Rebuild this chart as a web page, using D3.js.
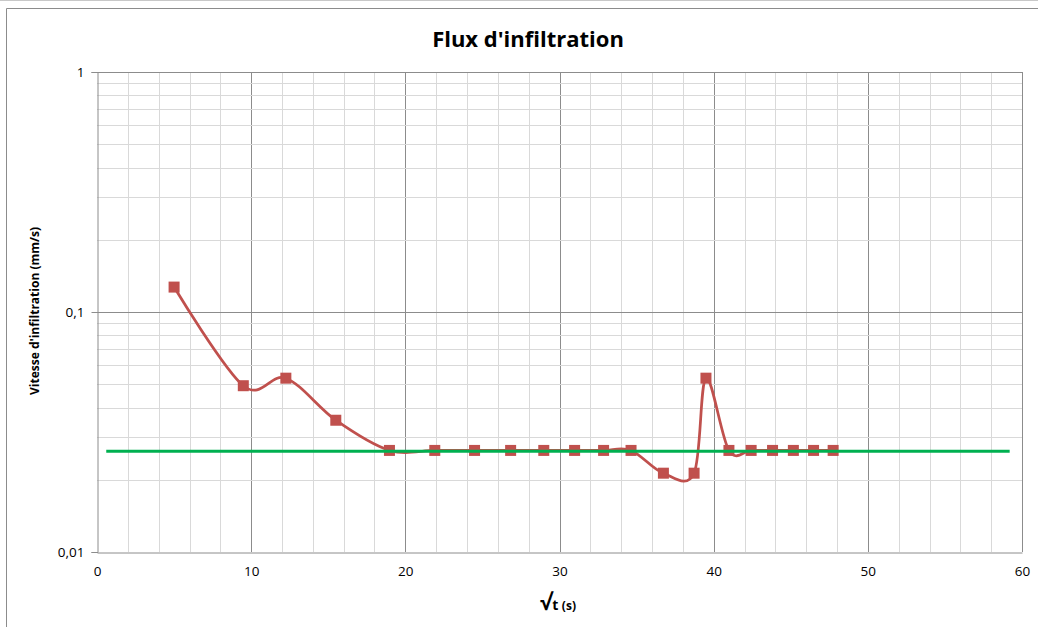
<!DOCTYPE html>
<html>
<head>
<meta charset="utf-8">
<script src="https://cdn.jsdelivr.net/npm/d3@7"></script>
<style>
  html, body { margin: 0; padding: 0; background: #fff; }
  svg { display: block; }
  text { font-family: "Open Sans", "Noto Sans", sans-serif; }
</style>
</head>
<body>
<div id="chart"></div>
<script>
// ---- data ----
const sqrtT = [5.0, 9.49, 12.25, 15.49, 18.97, 21.91, 24.49, 26.83, 28.98, 30.98, 32.86,
               34.64, 36.74, 38.73, 39.50, 40.99, 42.43, 43.82, 45.17, 46.48, 47.75];
const velocity = [0.127, 0.0493, 0.053, 0.0354, 0.0265, 0.0265, 0.0265, 0.0265, 0.0265, 0.0265, 0.0265,
                  0.0265, 0.0213, 0.0213, 0.053, 0.0265, 0.0265, 0.0265, 0.0265, 0.0265, 0.0265];
const refX = [0.6, 59.2];
const refY = [0.0263, 0.0263];
const xTicks = [0, 10, 20, 30, 40, 50, 60];
const yTicks = [0.01, 0.1, 1];
const yTickLabels = ["0,01", "0,1", "1"];
const titleText = "Flux d'infiltration";
const yLabel = "Vitesse d'infiltration (mm/s)";

// ---- layout ----
const W = 1038, H = 627;
const plot = { left: 97, right: 1022, top: 72, bottom: 552 };

const svg = d3.select("#chart").append("svg").attr("width", W).attr("height", H);

// frame
svg.append("line").attr("x1", 0).attr("x2", W).attr("y1", 0.5).attr("y2", 0.5)
  .attr("stroke", "#c8c8c8").attr("stroke-width", 1);
svg.append("path").attr("d", `M6.5,${H} L6.5,8.5 L${W},8.5`)
  .attr("fill", "none").attr("stroke", "#8c8c8c").attr("stroke-width", 1);

const x = d3.scaleLinear().domain([0, 60]).range([plot.left, plot.right]);
const y = d3.scaleLog().domain([0.01, 1]).range([plot.bottom, plot.top]);

const grid = svg.append("g");
// vertical grid lines every 2 units
d3.range(2, 61, 2).forEach(v => {
  const major = v % 10 === 0;
  grid.append("line")
    .attr("x1", Math.round(x(v)) + 0.5).attr("x2", Math.round(x(v)) + 0.5)
    .attr("y1", plot.top).attr("y2", plot.bottom)
    .attr("stroke", major ? "#8c8c8c" : "#d9d9d9").attr("stroke-width", 1);
});
// horizontal log grid lines
[0.01, 0.1].forEach(dec => {
  d3.range(2, 10).forEach(m => {
    const v = dec * m;
    grid.append("line")
      .attr("x1", plot.left).attr("x2", plot.right)
      .attr("y1", Math.round(y(v)) + 0.5).attr("y2", Math.round(y(v)) + 0.5)
      .attr("stroke", "#d9d9d9").attr("stroke-width", 1);
  });
});
yTicks.slice(1).forEach(v => {
  grid.append("line")
    .attr("x1", plot.left).attr("x2", plot.right)
    .attr("y1", Math.round(y(v)) + 0.5).attr("y2", Math.round(y(v)) + 0.5)
    .attr("stroke", "#8c8c8c").attr("stroke-width", 1);
});

// y axis
const yAxis = d3.axisLeft(y).tickValues(yTicks)
  .tickFormat((d, i) => yTickLabels[i]).tickSize(6).tickPadding(7);
const gy = svg.append("g").attr("transform", `translate(${plot.left + 0.5},0)`).call(yAxis);
gy.select(".domain").attr("stroke", "#8c8c8c");
gy.selectAll(".tick line").attr("stroke", "#8c8c8c");
gy.selectAll(".tick text").attr("font-size", 13.5).attr("fill", "#000")
  .style("font-family", "'Open Sans', sans-serif");

// x axis
const xAxis = d3.axisBottom(x).tickValues(xTicks).tickSize(0).tickPadding(14);
const gx = svg.append("g").attr("transform", `translate(0,${plot.bottom + 0.5})`).call(xAxis);
gx.select(".domain").attr("stroke", "#8c8c8c");
gx.selectAll(".tick text").attr("font-size", 13.5).attr("fill", "#000")
  .style("font-family", "'Open Sans', sans-serif");

// data series
const pts = sqrtT.map((v, i) => [v, velocity[i]]);
const line = d3.line().x(d => x(d[0])).y(d => y(d[1])).curve(d3.curveCatmullRom.alpha(0));
svg.append("path").datum(pts).attr("d", line)
  .attr("fill", "none").attr("stroke", "#C0504D").attr("stroke-width", 2.75)
  .attr("stroke-linejoin", "round");
const ms = 11;
svg.append("g").selectAll("rect").data(pts).join("rect")
  .attr("x", d => x(d[0]) - ms / 2).attr("y", d => y(d[1]) - ms / 2)
  .attr("width", ms).attr("height", ms).attr("fill", "#C0504D");

// reference line
const refPts = refX.map((v, i) => [v, refY[i]]);
svg.append("path").datum(refPts)
  .attr("d", d3.line().x(d => x(d[0])).y(d => y(d[1])))
  .attr("stroke", "#00B050").attr("stroke-width", 3).attr("fill", "none");

// title
svg.append("text").attr("x", 528).attr("y", 47).attr("text-anchor", "middle")
  .attr("font-size", 22).attr("font-weight", "bold").attr("fill", "#000").text(titleText);

// y label
svg.append("text").attr("transform", "translate(39,311) rotate(-90)")
  .attr("text-anchor", "middle").attr("font-size", 12).attr("font-weight", "bold")
  .attr("fill", "#000").text(yLabel);

// x label
const xl = svg.append("text").attr("x", 558).attr("y", 610).attr("text-anchor", "middle")
  .attr("font-weight", "bold").attr("fill", "#000");
xl.append("tspan").attr("font-size", 22).text("√");
xl.append("tspan").attr("font-size", 14).text("t ");
xl.append("tspan").attr("font-size", 12).text("(s)");
</script>
</body>
</html>
